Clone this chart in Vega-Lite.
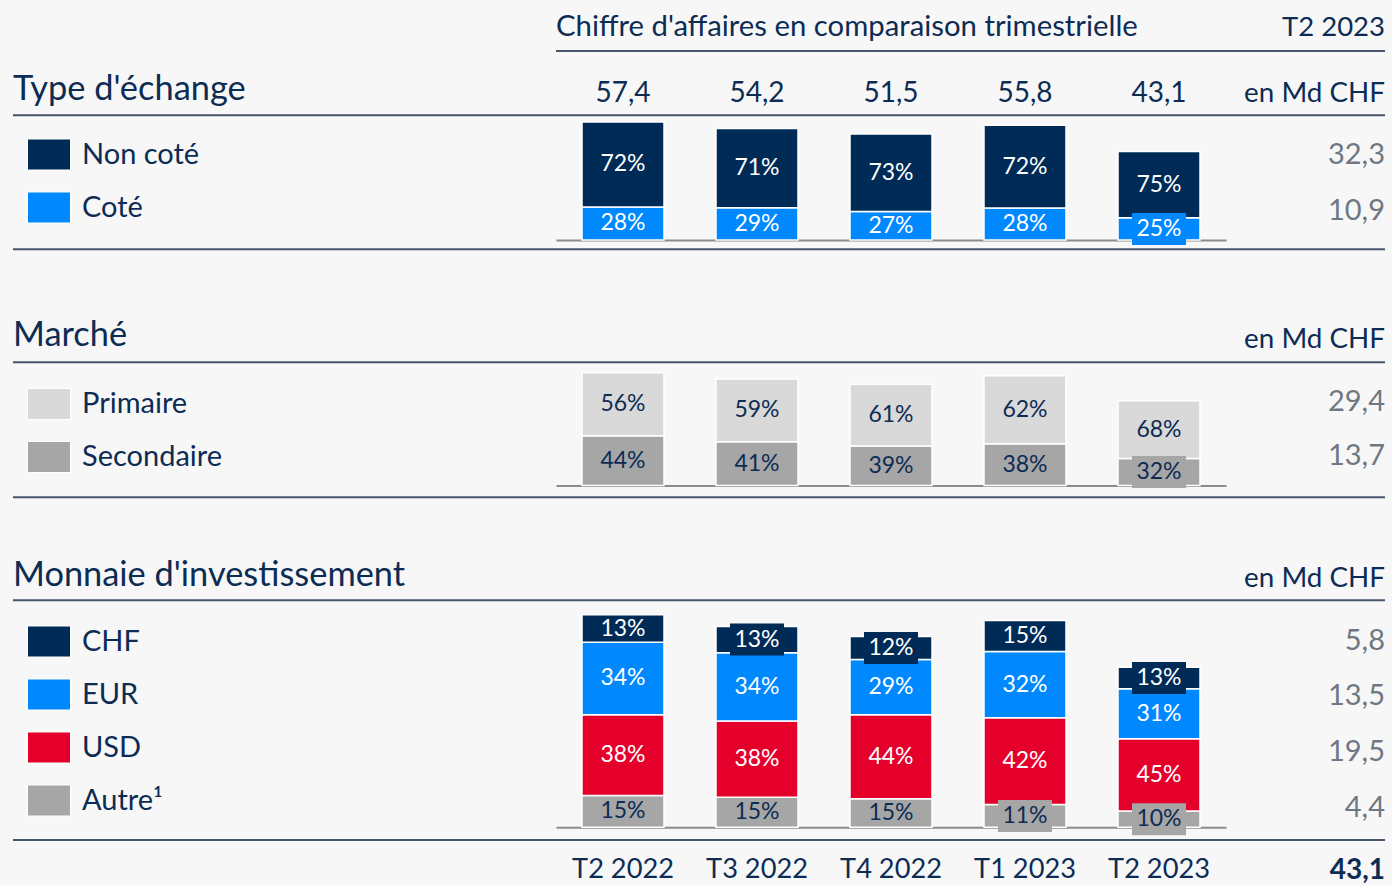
{
  "$schema": "https://vega.github.io/schema/vega-lite/v6.json",
  "width": 1372,
  "height": 885,
  "autosize": "none",
  "padding": {"left": 13, "right": 7, "top": 0, "bottom": 0},
  "background": "#f7f7f7",
  "config": {"view": {"stroke": null}, "font": "Lato", "text": {"font": "Lato"}},
  "datasets": {
    "barres": [
      {"section": "échange", "trimestre": "T2 2022", "serie": "Coté", "ordre": 1, "part": 0.28, "montant": 16.07, "boite": false},
      {"section": "échange", "trimestre": "T2 2022", "serie": "Non coté", "ordre": 2, "part": 0.72, "montant": 41.33, "boite": false},
      {"section": "échange", "trimestre": "T3 2022", "serie": "Coté", "ordre": 1, "part": 0.29, "montant": 15.72, "boite": false},
      {"section": "échange", "trimestre": "T3 2022", "serie": "Non coté", "ordre": 2, "part": 0.71, "montant": 38.48, "boite": false},
      {"section": "échange", "trimestre": "T4 2022", "serie": "Coté", "ordre": 1, "part": 0.27, "montant": 13.91, "boite": false},
      {"section": "échange", "trimestre": "T4 2022", "serie": "Non coté", "ordre": 2, "part": 0.73, "montant": 37.6, "boite": false},
      {"section": "échange", "trimestre": "T1 2023", "serie": "Coté", "ordre": 1, "part": 0.28, "montant": 15.62, "boite": false},
      {"section": "échange", "trimestre": "T1 2023", "serie": "Non coté", "ordre": 2, "part": 0.72, "montant": 40.18, "boite": false},
      {"section": "échange", "trimestre": "T2 2023", "serie": "Coté", "ordre": 1, "part": 0.25, "montant": 10.8, "boite": true},
      {"section": "échange", "trimestre": "T2 2023", "serie": "Non coté", "ordre": 2, "part": 0.75, "montant": 32.3, "boite": false},
      {"section": "marché", "trimestre": "T2 2022", "serie": "Secondaire", "ordre": 1, "part": 0.44, "montant": 25.26, "boite": false},
      {"section": "marché", "trimestre": "T2 2022", "serie": "Primaire", "ordre": 2, "part": 0.56, "montant": 32.14, "boite": false},
      {"section": "marché", "trimestre": "T3 2022", "serie": "Secondaire", "ordre": 1, "part": 0.41, "montant": 22.22, "boite": false},
      {"section": "marché", "trimestre": "T3 2022", "serie": "Primaire", "ordre": 2, "part": 0.59, "montant": 31.98, "boite": false},
      {"section": "marché", "trimestre": "T4 2022", "serie": "Secondaire", "ordre": 1, "part": 0.39, "montant": 20.09, "boite": false},
      {"section": "marché", "trimestre": "T4 2022", "serie": "Primaire", "ordre": 2, "part": 0.61, "montant": 31.42, "boite": false},
      {"section": "marché", "trimestre": "T1 2023", "serie": "Secondaire", "ordre": 1, "part": 0.38, "montant": 21.2, "boite": false},
      {"section": "marché", "trimestre": "T1 2023", "serie": "Primaire", "ordre": 2, "part": 0.62, "montant": 34.6, "boite": false},
      {"section": "marché", "trimestre": "T2 2023", "serie": "Secondaire", "ordre": 1, "part": 0.32, "montant": 13.7, "boite": true},
      {"section": "marché", "trimestre": "T2 2023", "serie": "Primaire", "ordre": 2, "part": 0.68, "montant": 29.4, "boite": false},
      {"section": "monnaie", "trimestre": "T2 2022", "serie": "Autre¹", "ordre": 1, "part": 0.15, "montant": 8.61, "boite": false},
      {"section": "monnaie", "trimestre": "T2 2022", "serie": "USD", "ordre": 2, "part": 0.38, "montant": 21.81, "boite": false},
      {"section": "monnaie", "trimestre": "T2 2022", "serie": "EUR", "ordre": 3, "part": 0.34, "montant": 19.52, "boite": false},
      {"section": "monnaie", "trimestre": "T2 2022", "serie": "CHF", "ordre": 4, "part": 0.13, "montant": 7.46, "boite": false},
      {"section": "monnaie", "trimestre": "T3 2022", "serie": "Autre¹", "ordre": 1, "part": 0.15, "montant": 8.13, "boite": false},
      {"section": "monnaie", "trimestre": "T3 2022", "serie": "USD", "ordre": 2, "part": 0.38, "montant": 20.6, "boite": false},
      {"section": "monnaie", "trimestre": "T3 2022", "serie": "EUR", "ordre": 3, "part": 0.34, "montant": 18.43, "boite": false},
      {"section": "monnaie", "trimestre": "T3 2022", "serie": "CHF", "ordre": 4, "part": 0.13, "montant": 7.05, "boite": true},
      {"section": "monnaie", "trimestre": "T4 2022", "serie": "Autre¹", "ordre": 1, "part": 0.15, "montant": 7.73, "boite": false},
      {"section": "monnaie", "trimestre": "T4 2022", "serie": "USD", "ordre": 2, "part": 0.44, "montant": 22.66, "boite": false},
      {"section": "monnaie", "trimestre": "T4 2022", "serie": "EUR", "ordre": 3, "part": 0.29, "montant": 14.94, "boite": false},
      {"section": "monnaie", "trimestre": "T4 2022", "serie": "CHF", "ordre": 4, "part": 0.12, "montant": 6.18, "boite": true},
      {"section": "monnaie", "trimestre": "T1 2023", "serie": "Autre¹", "ordre": 1, "part": 0.11, "montant": 6.14, "boite": true},
      {"section": "monnaie", "trimestre": "T1 2023", "serie": "USD", "ordre": 2, "part": 0.42, "montant": 23.44, "boite": false},
      {"section": "monnaie", "trimestre": "T1 2023", "serie": "EUR", "ordre": 3, "part": 0.32, "montant": 17.86, "boite": false},
      {"section": "monnaie", "trimestre": "T1 2023", "serie": "CHF", "ordre": 4, "part": 0.15, "montant": 8.37, "boite": false},
      {"section": "monnaie", "trimestre": "T2 2023", "serie": "Autre¹", "ordre": 1, "part": 0.1, "montant": 4.4, "boite": true},
      {"section": "monnaie", "trimestre": "T2 2023", "serie": "USD", "ordre": 2, "part": 0.45, "montant": 19.5, "boite": false},
      {"section": "monnaie", "trimestre": "T2 2023", "serie": "EUR", "ordre": 3, "part": 0.31, "montant": 13.5, "boite": false},
      {"section": "monnaie", "trimestre": "T2 2023", "serie": "CHF", "ordre": 4, "part": 0.13, "montant": 5.8, "boite": true}
    ],
    "totaux": [
      {"trimestre": "T2 2022", "total": "57,4"},
      {"trimestre": "T3 2022", "total": "54,2"},
      {"trimestre": "T4 2022", "total": "51,5"},
      {"trimestre": "T1 2023", "total": "55,8"},
      {"trimestre": "T2 2023", "total": "43,1"}
    ],
    "valeurs": [
      {"section": "échange", "serie": "Non coté", "valeur": "32,3"},
      {"section": "échange", "serie": "Coté", "valeur": "10,9"},
      {"section": "marché", "serie": "Primaire", "valeur": "29,4"},
      {"section": "marché", "serie": "Secondaire", "valeur": "13,7"},
      {"section": "monnaie", "serie": "CHF", "valeur": "5,8"},
      {"section": "monnaie", "serie": "EUR", "valeur": "13,5"},
      {"section": "monnaie", "serie": "USD", "valeur": "19,5"},
      {"section": "monnaie", "serie": "Autre¹", "valeur": "4,4"}
    ],
    "vide": [{}]
  },
  "resolve": {
    "scale": {"x": "independent", "y": "independent", "color": "independent", "fill": "independent"},
    "axis": {"x": "independent", "y": "independent"},
    "legend": {"color": "independent"}
  },
  "layer": [
    {
      "layer": [
        {
          "data": {"name": "barres"},
          "transform": [{"filter": "datum.section === 'échange'"}, {"stack": "montant", "groupby": ["trimestre"], "sort": [{"field": "ordre", "order": "ascending"}], "as": ["bas", "haut"]}],
          "mark": {"type": "bar", "stroke": "#ffffff", "strokeWidth": 1.5},
          "encoding": {
            "x": {"field": "trimestre", "type": "nominal", "sort": null, "scale": {"domain": ["T2 2022", "T3 2022", "T4 2022", "T1 2023", "T2 2023"], "range": [543, 1213], "paddingInner": 0.388, "paddingOuter": 0.194}, "axis": {"orient": "bottom", "offset": -645, "labels": false, "ticks": false, "title": null, "grid": false, "domainColor": "#8c8c8c", "domainWidth": 2}},
            "y": {"field": "bas", "type": "quantitative", "scale": {"domain": [0, 57.4], "range": [240, 122], "nice": false, "zero": false}, "axis": null},
            "y2": {"field": "haut"},
            "color": {"field": "serie", "type": "nominal", "scale": {"domain": ["Non coté", "Coté"], "range": ["#002b57", "#0089ff"]},
              "legend": {"orient": "none", "legendX": 14, "legendY": 132.5, "title": null, "symbolType": "M-1,-0.721H1V0.721H-1Z", "symbolSize": 1849, "symbolStrokeColor": "#ffffff", "symbolStrokeWidth": 1, "symbolOpacity": 1, "labelFont": "Lato", "labelFontSize": 29, "labelColor": "#0d2c54", "labelOffset": 11, "rowPadding": 13, "padding": 0, "labelLimit": 500}}
          }
        },
        {
          "data": {"name": "barres"},
          "transform": [{"filter": "datum.section === 'échange'"}],
          "mark": {"type": "point", "shape": "M-1,-0.593H1V0.593H-1Z", "size": 2916, "filled": true, "opacity": 1, "strokeWidth": 0},
          "encoding": {
            "x": {"field": "trimestre", "type": "nominal", "sort": null, "scale": {"domain": ["T2 2022", "T3 2022", "T4 2022", "T1 2023", "T2 2023"], "range": [543, 1213], "paddingInner": 0.388, "paddingOuter": 0.194}, "axis": {"orient": "bottom", "offset": -645, "labels": false, "ticks": false, "title": null, "grid": false, "domainColor": "#8c8c8c", "domainWidth": 2}},
            "y": {"field": "montant", "type": "quantitative", "stack": "zero", "bandPosition": 0.5, "scale": {"domain": [0, 57.4], "range": [240, 122], "nice": false, "zero": false}, "axis": null},
            "detail": {"field": "serie"},
            "order": {"field": "ordre", "type": "quantitative", "sort": "ascending"},
            "fill": {"field": "serie", "type": "nominal", "scale": {"domain": ["Non coté", "Coté"], "range": ["#002b57", "#0089ff"]}, "legend": null},
            "opacity": {"condition": {"test": "datum.boite", "value": 1}, "value": 0}
          }
        },
        {
          "data": {"name": "barres"},
          "transform": [{"filter": "datum.section === 'échange'"}],
          "mark": {"type": "text", "fontSize": 23, "baseline": "middle"},
          "encoding": {
            "x": {"field": "trimestre", "type": "nominal", "sort": null, "scale": {"domain": ["T2 2022", "T3 2022", "T4 2022", "T1 2023", "T2 2023"], "range": [543, 1213], "paddingInner": 0.388, "paddingOuter": 0.194}, "axis": {"orient": "bottom", "offset": -645, "labels": false, "ticks": false, "title": null, "grid": false, "domainColor": "#8c8c8c", "domainWidth": 2}},
            "y": {"field": "montant", "type": "quantitative", "stack": "zero", "bandPosition": 0.5, "scale": {"domain": [0, 57.4], "range": [240, 122], "nice": false, "zero": false}, "axis": null},
            "detail": {"field": "serie"},
            "order": {"field": "ordre", "type": "quantitative", "sort": "ascending"},
            "text": {"field": "part", "type": "quantitative", "format": ".0%"},
            "color": {"value": "#ffffff"}
          }
        },
        {
          "data": {"name": "totaux"},
          "mark": {"type": "text", "fontSize": 28, "baseline": "alphabetic", "color": "#0d2c54"},
          "encoding": {
            "x": {"field": "trimestre", "type": "nominal", "sort": null, "scale": {"domain": ["T2 2022", "T3 2022", "T4 2022", "T1 2023", "T2 2023"], "range": [543, 1213], "paddingInner": 0.388, "paddingOuter": 0.194}, "axis": {"orient": "bottom", "offset": -645, "labels": false, "ticks": false, "title": null, "grid": false, "domainColor": "#8c8c8c", "domainWidth": 2}},
            "y": {"datum": 66.98, "type": "quantitative", "scale": {"domain": [0, 57.4], "range": [240, 122], "nice": false, "zero": false}, "axis": null},
            "text": {"field": "total"}
          }
        },
        {
          "data": {"name": "vide"},
          "mark": {"type": "rule", "stroke": "#46556a", "strokeWidth": 2},
          "encoding": {
            "x": {"datum": "T2 2022", "type": "nominal", "bandPosition": -0.317, "scale": {"domain": ["T2 2022", "T3 2022", "T4 2022", "T1 2023", "T2 2023"], "range": [543, 1213], "paddingInner": 0.388, "paddingOuter": 0.194}, "axis": {"orient": "bottom", "offset": -645, "labels": false, "ticks": false, "title": null, "grid": false, "domainColor": "#8c8c8c", "domainWidth": 2}},
            "x2": {"value": "width"},
            "y": {"datum": 91.94, "type": "quantitative", "scale": {"domain": [0, 57.4], "range": [240, 122], "nice": false, "zero": false}, "axis": null}
          }
        },
        {
          "data": {"name": "vide"},
          "mark": {"type": "text", "text": "Chiffre d'affaires en comparaison trimestrielle", "align": "left", "baseline": "alphabetic", "fontSize": 29.3, "color": "#0d2c54"},
          "encoding": {
            "x": {"datum": "T2 2022", "type": "nominal", "bandPosition": -0.317, "scale": {"domain": ["T2 2022", "T3 2022", "T4 2022", "T1 2023", "T2 2023"], "range": [543, 1213], "paddingInner": 0.388, "paddingOuter": 0.194}, "axis": {"orient": "bottom", "offset": -645, "labels": false, "ticks": false, "title": null, "grid": false, "domainColor": "#8c8c8c", "domainWidth": 2}},
            "y": {"datum": 99.23, "type": "quantitative", "scale": {"domain": [0, 57.4], "range": [240, 122], "nice": false, "zero": false}, "axis": null}
          }
        },
        {
          "data": {"name": "vide"},
          "mark": {"type": "text", "text": "T2 2023", "align": "right", "baseline": "alphabetic", "fontSize": 27.5, "color": "#0d2c54"},
          "encoding": {
            "x": {"value": "width"},
            "y": {"datum": 99.4, "type": "quantitative", "scale": {"domain": [0, 57.4], "range": [240, 122], "nice": false, "zero": false}, "axis": null}
          }
        },
        {
          "data": {"name": "vide"},
          "mark": {"type": "text", "text": "Type d'échange", "align": "left", "baseline": "alphabetic", "fontSize": 34.4, "color": "#0d2c54"},
          "encoding": {
            "x": {"value": 0},
            "y": {"datum": 68.1, "type": "quantitative", "scale": {"domain": [0, 57.4], "range": [240, 122], "nice": false, "zero": false}, "axis": null}
          }
        },
        {
          "data": {"name": "vide"},
          "mark": {"type": "text", "text": "en Md CHF", "align": "right", "baseline": "alphabetic", "fontSize": 27.8, "color": "#0d2c54"},
          "encoding": {
            "x": {"value": "width"},
            "y": {"datum": 67.13, "type": "quantitative", "scale": {"domain": [0, 57.4], "range": [240, 122], "nice": false, "zero": false}, "axis": null}
          }
        },
        {
          "data": {"name": "vide"},
          "mark": {"type": "rule", "stroke": "#46556a", "strokeWidth": 2},
          "encoding": {"y": {"datum": 60.66, "type": "quantitative", "scale": {"domain": [0, 57.4], "range": [240, 122], "nice": false, "zero": false}, "axis": null}}
        },
        {
          "data": {"name": "vide"},
          "mark": {"type": "rule", "stroke": "#46556a", "strokeWidth": 2},
          "encoding": {"y": {"datum": -4.52, "type": "quantitative", "scale": {"domain": [0, 57.4], "range": [240, 122], "nice": false, "zero": false}, "axis": null}}
        }
      ]
    },
    {
      "data": {"name": "valeurs"},
      "transform": [{"filter": "datum.section === 'échange'"}],
      "mark": {"type": "text", "align": "right", "baseline": "middle", "fontSize": 29, "color": "#6f7782"},
      "encoding": {
        "x": {"value": "width"},
        "y": {"field": "serie", "type": "nominal", "scale": {"type": "point", "domain": ["Non coté", "Coté"], "range": [155, 211], "padding": 0}, "axis": null},
        "text": {"field": "valeur"}
      }
    },
    {
      "layer": [
        {
          "data": {"name": "barres"},
          "transform": [{"filter": "datum.section === 'marché'"}, {"stack": "montant", "groupby": ["trimestre"], "sort": [{"field": "ordre", "order": "ascending"}], "as": ["bas", "haut"]}],
          "mark": {"type": "bar", "stroke": "#ffffff", "strokeWidth": 1.5},
          "encoding": {
            "x": {"field": "trimestre", "type": "nominal", "sort": null, "scale": {"domain": ["T2 2022", "T3 2022", "T4 2022", "T1 2023", "T2 2023"], "range": [543, 1213], "paddingInner": 0.388, "paddingOuter": 0.194}, "axis": {"orient": "bottom", "offset": -399.5, "labels": false, "ticks": false, "title": null, "grid": false, "domainColor": "#8c8c8c", "domainWidth": 2}},
            "y": {"field": "bas", "type": "quantitative", "scale": {"domain": [0, 57.4], "range": [485.5, 372.7], "nice": false, "zero": false}, "axis": null},
            "y2": {"field": "haut"},
            "color": {"field": "serie", "type": "nominal", "scale": {"domain": ["Primaire", "Secondaire"], "range": ["#d9d9d9", "#a6a6a6"]},
              "legend": {"orient": "none", "legendX": 14, "legendY": 382, "title": null, "symbolType": "M-1,-0.721H1V0.721H-1Z", "symbolSize": 1849, "symbolStrokeColor": "#ffffff", "symbolStrokeWidth": 1, "symbolOpacity": 1, "labelFont": "Lato", "labelFontSize": 29, "labelColor": "#0d2c54", "labelOffset": 11, "rowPadding": 13, "padding": 0, "labelLimit": 500}}
          }
        },
        {
          "data": {"name": "barres"},
          "transform": [{"filter": "datum.section === 'marché'"}],
          "mark": {"type": "point", "shape": "M-1,-0.593H1V0.593H-1Z", "size": 2916, "filled": true, "opacity": 1, "strokeWidth": 0},
          "encoding": {
            "x": {"field": "trimestre", "type": "nominal", "sort": null, "scale": {"domain": ["T2 2022", "T3 2022", "T4 2022", "T1 2023", "T2 2023"], "range": [543, 1213], "paddingInner": 0.388, "paddingOuter": 0.194}, "axis": {"orient": "bottom", "offset": -399.5, "labels": false, "ticks": false, "title": null, "grid": false, "domainColor": "#8c8c8c", "domainWidth": 2}},
            "y": {"field": "montant", "type": "quantitative", "stack": "zero", "bandPosition": 0.5, "scale": {"domain": [0, 57.4], "range": [485.5, 372.7], "nice": false, "zero": false}, "axis": null},
            "detail": {"field": "serie"},
            "order": {"field": "ordre", "type": "quantitative", "sort": "ascending"},
            "fill": {"field": "serie", "type": "nominal", "scale": {"domain": ["Primaire", "Secondaire"], "range": ["#d9d9d9", "#a6a6a6"]}, "legend": null},
            "opacity": {"condition": {"test": "datum.boite", "value": 1}, "value": 0}
          }
        },
        {
          "data": {"name": "barres"},
          "transform": [{"filter": "datum.section === 'marché'"}],
          "mark": {"type": "text", "fontSize": 23, "baseline": "middle"},
          "encoding": {
            "x": {"field": "trimestre", "type": "nominal", "sort": null, "scale": {"domain": ["T2 2022", "T3 2022", "T4 2022", "T1 2023", "T2 2023"], "range": [543, 1213], "paddingInner": 0.388, "paddingOuter": 0.194}, "axis": {"orient": "bottom", "offset": -399.5, "labels": false, "ticks": false, "title": null, "grid": false, "domainColor": "#8c8c8c", "domainWidth": 2}},
            "y": {"field": "montant", "type": "quantitative", "stack": "zero", "bandPosition": 0.5, "scale": {"domain": [0, 57.4], "range": [485.5, 372.7], "nice": false, "zero": false}, "axis": null},
            "detail": {"field": "serie"},
            "order": {"field": "ordre", "type": "quantitative", "sort": "ascending"},
            "text": {"field": "part", "type": "quantitative", "format": ".0%"},
            "color": {"value": "#0d2c54"}
          }
        },
        {
          "data": {"name": "vide"},
          "mark": {"type": "text", "text": "Marché", "align": "left", "baseline": "alphabetic", "fontSize": 34.4, "color": "#0d2c54"},
          "encoding": {
            "x": {"value": 0},
            "y": {"datum": 70.99, "type": "quantitative", "scale": {"domain": [0, 57.4], "range": [485.5, 372.7], "nice": false, "zero": false}, "axis": null}
          }
        },
        {
          "data": {"name": "vide"},
          "mark": {"type": "text", "text": "en Md CHF", "align": "right", "baseline": "alphabetic", "fontSize": 27.8, "color": "#0d2c54"},
          "encoding": {
            "x": {"value": "width"},
            "y": {"datum": 70.12, "type": "quantitative", "scale": {"domain": [0, 57.4], "range": [485.5, 372.7], "nice": false, "zero": false}, "axis": null}
          }
        },
        {
          "data": {"name": "vide"},
          "mark": {"type": "rule", "stroke": "#46556a", "strokeWidth": 2},
          "encoding": {"y": {"datum": 62.69, "type": "quantitative", "scale": {"domain": [0, 57.4], "range": [485.5, 372.7], "nice": false, "zero": false}, "axis": null}}
        },
        {
          "data": {"name": "vide"},
          "mark": {"type": "rule", "stroke": "#46556a", "strokeWidth": 2},
          "encoding": {"y": {"datum": -6.0, "type": "quantitative", "scale": {"domain": [0, 57.4], "range": [485.5, 372.7], "nice": false, "zero": false}, "axis": null}}
        }
      ]
    },
    {
      "data": {"name": "valeurs"},
      "transform": [{"filter": "datum.section === 'marché'"}],
      "mark": {"type": "text", "align": "right", "baseline": "middle", "fontSize": 29, "color": "#6f7782"},
      "encoding": {
        "x": {"value": "width"},
        "y": {"field": "serie", "type": "nominal", "scale": {"type": "point", "domain": ["Primaire", "Secondaire"], "range": [402, 456], "padding": 0}, "axis": null},
        "text": {"field": "valeur"}
      }
    },
    {
      "layer": [
        {
          "data": {"name": "barres"},
          "transform": [{"filter": "datum.section === 'monnaie'"}, {"stack": "montant", "groupby": ["trimestre"], "sort": [{"field": "ordre", "order": "ascending"}], "as": ["bas", "haut"]}],
          "mark": {"type": "bar", "stroke": "#ffffff", "strokeWidth": 1.5},
          "encoding": {
            "x": {"field": "trimestre", "type": "nominal", "sort": null, "scale": {"domain": ["T2 2022", "T3 2022", "T4 2022", "T1 2023", "T2 2023"], "range": [543, 1213], "paddingInner": 0.388, "paddingOuter": 0.194}, "axis": {"orient": "bottom", "offset": -57.7, "labels": true, "ticks": false, "title": null, "grid": false, "domainColor": "#8c8c8c", "domainWidth": 2, "labelFont": "Lato", "labelFontSize": 27.2, "labelColor": "#0d2c54", "labelPadding": 49.7, "labelBaseline": "alphabetic", "labelAngle": 0}},
            "y": {"field": "bas", "type": "quantitative", "scale": {"domain": [0, 57.4], "range": [827.3, 614.7], "nice": false, "zero": false}, "axis": null},
            "y2": {"field": "haut"},
            "color": {"field": "serie", "type": "nominal", "scale": {"domain": ["CHF", "EUR", "USD", "Autre¹"], "range": ["#002b57", "#0089ff", "#e4002b", "#a6a6a6"]},
              "legend": {"orient": "none", "legendX": 14, "legendY": 619.5, "title": null, "symbolType": "M-1,-0.721H1V0.721H-1Z", "symbolSize": 1849, "symbolStrokeColor": "#ffffff", "symbolStrokeWidth": 1, "symbolOpacity": 1, "labelFont": "Lato", "labelFontSize": 29, "labelColor": "#0d2c54", "labelOffset": 11, "rowPadding": 13, "padding": 0, "labelLimit": 500}}
          }
        },
        {
          "data": {"name": "barres"},
          "transform": [{"filter": "datum.section === 'monnaie'"}],
          "mark": {"type": "point", "shape": "M-1,-0.593H1V0.593H-1Z", "size": 2916, "filled": true, "opacity": 1, "strokeWidth": 0},
          "encoding": {
            "x": {"field": "trimestre", "type": "nominal", "sort": null, "scale": {"domain": ["T2 2022", "T3 2022", "T4 2022", "T1 2023", "T2 2023"], "range": [543, 1213], "paddingInner": 0.388, "paddingOuter": 0.194}, "axis": {"orient": "bottom", "offset": -57.7, "labels": true, "ticks": false, "title": null, "grid": false, "domainColor": "#8c8c8c", "domainWidth": 2, "labelFont": "Lato", "labelFontSize": 27.2, "labelColor": "#0d2c54", "labelPadding": 49.7, "labelBaseline": "alphabetic", "labelAngle": 0}},
            "y": {"field": "montant", "type": "quantitative", "stack": "zero", "bandPosition": 0.5, "scale": {"domain": [0, 57.4], "range": [827.3, 614.7], "nice": false, "zero": false}, "axis": null},
            "detail": {"field": "serie"},
            "order": {"field": "ordre", "type": "quantitative", "sort": "ascending"},
            "fill": {"field": "serie", "type": "nominal", "scale": {"domain": ["CHF", "EUR", "USD", "Autre¹"], "range": ["#002b57", "#0089ff", "#e4002b", "#a6a6a6"]}, "legend": null},
            "opacity": {"condition": {"test": "datum.boite", "value": 1}, "value": 0}
          }
        },
        {
          "data": {"name": "barres"},
          "transform": [{"filter": "datum.section === 'monnaie'"}],
          "mark": {"type": "text", "fontSize": 23, "baseline": "middle"},
          "encoding": {
            "x": {"field": "trimestre", "type": "nominal", "sort": null, "scale": {"domain": ["T2 2022", "T3 2022", "T4 2022", "T1 2023", "T2 2023"], "range": [543, 1213], "paddingInner": 0.388, "paddingOuter": 0.194}, "axis": {"orient": "bottom", "offset": -57.7, "labels": true, "ticks": false, "title": null, "grid": false, "domainColor": "#8c8c8c", "domainWidth": 2, "labelFont": "Lato", "labelFontSize": 27.2, "labelColor": "#0d2c54", "labelPadding": 49.7, "labelBaseline": "alphabetic", "labelAngle": 0}},
            "y": {"field": "montant", "type": "quantitative", "stack": "zero", "bandPosition": 0.5, "scale": {"domain": [0, 57.4], "range": [827.3, 614.7], "nice": false, "zero": false}, "axis": null},
            "detail": {"field": "serie"},
            "order": {"field": "ordre", "type": "quantitative", "sort": "ascending"},
            "text": {"field": "part", "type": "quantitative", "format": ".0%"},
            "color": {"condition": {"test": "datum.serie === 'Autre¹'", "value": "#0d2c54"}, "value": "#ffffff"}
          }
        },
        {
          "data": {"name": "totaux"},
          "transform": [{"filter": "datum.trimestre === 'T2 2023'"}],
          "mark": {"type": "text", "align": "right", "baseline": "alphabetic", "fontSize": 28, "fontWeight": "bold", "color": "#0d2c54"},
          "encoding": {
            "x": {"value": "width"},
            "y": {"datum": -13.96, "type": "quantitative", "scale": {"domain": [0, 57.4], "range": [827.3, 614.7], "nice": false, "zero": false}, "axis": null},
            "text": {"field": "total"}
          }
        },
        {
          "data": {"name": "vide"},
          "mark": {"type": "text", "text": "Monnaie d'investissement", "align": "left", "baseline": "alphabetic", "fontSize": 34.4, "color": "#0d2c54"},
          "encoding": {
            "x": {"value": 0},
            "y": {"datum": 65.15, "type": "quantitative", "scale": {"domain": [0, 57.4], "range": [827.3, 614.7], "nice": false, "zero": false}, "axis": null}
          }
        },
        {
          "data": {"name": "vide"},
          "mark": {"type": "text", "text": "en Md CHF", "align": "right", "baseline": "alphabetic", "fontSize": 27.8, "color": "#0d2c54"},
          "encoding": {
            "x": {"value": "width"},
            "y": {"datum": 64.88, "type": "quantitative", "scale": {"domain": [0, 57.4], "range": [827.3, 614.7], "nice": false, "zero": false}, "axis": null}
          }
        },
        {
          "data": {"name": "vide"},
          "mark": {"type": "rule", "stroke": "#46556a", "strokeWidth": 2},
          "encoding": {"y": {"datum": 61.27, "type": "quantitative", "scale": {"domain": [0, 57.4], "range": [827.3, 614.7], "nice": false, "zero": false}, "axis": null}}
        },
        {
          "data": {"name": "vide"},
          "mark": {"type": "rule", "stroke": "#46556a", "strokeWidth": 2},
          "encoding": {"y": {"datum": -3.43, "type": "quantitative", "scale": {"domain": [0, 57.4], "range": [827.3, 614.7], "nice": false, "zero": false}, "axis": null}}
        }
      ]
    },
    {
      "data": {"name": "valeurs"},
      "transform": [{"filter": "datum.section === 'monnaie'"}],
      "mark": {"type": "text", "align": "right", "baseline": "middle", "fontSize": 29, "color": "#6f7782"},
      "encoding": {
        "x": {"value": "width"},
        "y": {"field": "serie", "type": "nominal", "scale": {"type": "point", "domain": ["CHF", "EUR", "USD", "Autre¹"], "range": [640.5, 808], "padding": 0}, "axis": null},
        "text": {"field": "valeur"}
      }
    }
  ]
}
